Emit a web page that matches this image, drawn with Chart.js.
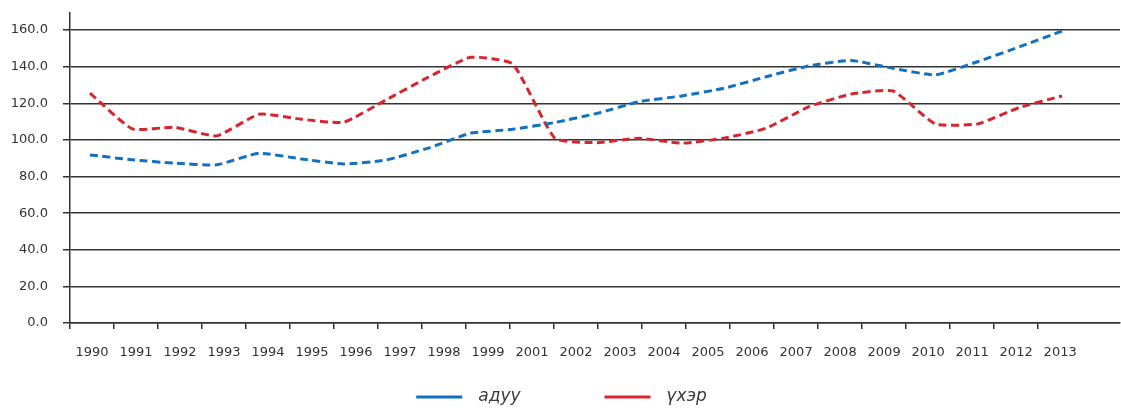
<!DOCTYPE html>
<html>
<head>
<meta charset="utf-8">
<script src="https://cdn.jsdelivr.net/npm/chart.js@4.4.1/dist/chart.umd.min.js"></script>
<style>
    html, body { margin: 0; padding: 0; background: #fff; }
    #wrap { width: 1121px; height: 409px; }
</style>
</head>
<body>
<div id="wrap"><canvas id="line-chart"></canvas></div>
<script>
// years of the data points (24 values) and the printed axis labels (2000 is missing there)
var years = [1990, 1991, 1992, 1993, 1994, 1995, 1996, 1997, 1998, 1999, 2000, 2001,
             2002, 2003, 2004, 2005, 2006, 2007, 2008, 2009, 2010, 2011, 2012, 2013];
var axisLabels = ["1990", "1991", "1992", "1993", "1994", "1995", "1996", "1997", "1998", "1999", "2001",
                  "2002", "2003", "2004", "2005", "2006", "2007", "2008", "2009", "2010", "2011", "2012", "2013"];
var aduu = [91.8, 89.1, 87.3, 86.4, 92.7, 89.6, 86.8, 89.0, 95.5, 103.6, 105.8, 109.5,
            114.5, 120.9, 124.0, 128.2, 134.5, 140.4, 143.4, 139.1, 135.5, 142.7, 150.9, 159.5];
var ukher = [125.5, 106.0, 106.9, 102.2, 114.0, 111.3, 109.6, 121.8, 134.2, 145.1, 141.5, 100.9,
             98.5, 100.9, 98.2, 100.9, 106.4, 118.0, 125.0, 126.7, 108.7, 108.7, 117.8, 124.0];
var yTicks = [0, 20, 40, 60, 80, 100, 120, 140, 160];

var blue = "#1170bf";
var red = "#d5262e";
var ink = "#333333";
var font = "'DejaVu Sans', sans-serif";

function points(values) {
    return values.map(function (v, i) { return {x: years[i], y: v}; });
}

// legend drawn under the axis, line + italic label
var legendLine = {
    id: 'legendLine',
    afterDraw: function (chart) {
        var ctx = chart.ctx;
        var sets = chart.data.datasets;
        var lineW = 46, textGap = 16, itemGap = 84, y = 397;
        ctx.save();
        ctx.font = "italic 17px " + font;
        var widths = sets.map(function (d) { return lineW + textGap + ctx.measureText(d.label).width; });
        var total = widths.reduce(function (a, b) { return a + b; }, 0) + itemGap * (sets.length - 1);
        var x = (chart.width - total) / 2 + 1;
        sets.forEach(function (d, i) {
            ctx.fillStyle = d.borderColor;
            ctx.fillRect(x, y - 1.5, lineW, 3);
            ctx.fillStyle = "#3a3a3a";
            ctx.textBaseline = "middle";
            ctx.textAlign = "left";
            ctx.fillText(d.label, x + lineW + textGap, y);
            x += widths[i] + itemGap;
        });
        ctx.restore();
    }
};

function draw() {
    new Chart(document.getElementById("line-chart"), {
        type: 'line',
        data: {
            datasets: [
                {
                    label: "адуу",
                    data: points(aduu),
                    borderColor: blue,
                    backgroundColor: blue,
                    borderWidth: 3,
                    borderDash: [8, 4.5],
                    pointRadius: 0,
                    tension: 0.15,
                    fill: false
                },
                {
                    label: "үхэр",
                    data: points(ukher),
                    borderColor: red,
                    backgroundColor: red,
                    borderWidth: 3,
                    borderDash: [8, 4.5],
                    pointRadius: 0,
                    tension: 0.15,
                    fill: false
                }
            ]
        },
        options: {
            responsive: true,
            maintainAspectRatio: false,
            animation: false,
            layout: {padding: {left: 10, right: 1, top: 13, bottom: 48}},
            plugins: {
                legend: {display: false},
                tooltip: {enabled: false}
            },
            scales: {
                x: {
                    type: 'linear',
                    display: false,
                    min: 1989.527,
                    max: 2014.37
                },
                x2: {
                    type: 'linear',
                    position: 'bottom',
                    min: 0,
                    max: 23.86,
                    afterBuildTicks: function (scale) {
                        scale.ticks = scale.ticks.filter(function (t) { return Number.isInteger(t.value); });
                    },
                    afterFit: function (scale) {
                        scale.paddingLeft = 0;
                        scale.paddingRight = 0;
                        scale.height = 38;
                    },
                    ticks: {
                        stepSize: 1,
                        autoSkip: false,
                        maxRotation: 0,
                        labelOffset: 22,
                        padding: 16,
                        color: ink,
                        font: {family: font, size: 13},
                        callback: function (v) { return axisLabels[v] || ""; }
                    },
                    grid: {drawOnChartArea: false, drawTicks: true, tickLength: 6, color: ink, lineWidth: 1.5},
                    border: {display: true, color: ink, width: 1.5}
                },
                y: {
                    min: 0,
                    max: 169.3,
                    afterBuildTicks: function (scale) {
                        scale.ticks = yTicks.map(function (v) { return {value: v}; });
                    },
                    afterFit: function (scale) {
                        scale.paddingTop = 0;
                        scale.paddingBottom = 0;
                        scale.width = 60;
                    },
                    ticks: {
                        padding: 15,
                        color: ink,
                        font: {family: font, size: 13},
                        callback: function (v) { return v.toFixed(1); }
                    },
                    grid: {color: ink, lineWidth: 1.5, tickLength: 7},
                    border: {display: true, color: ink, width: 1.5}
                }
            }
        },
        plugins: [legendLine]
    });
}

draw();
</script>
</body>
</html>
